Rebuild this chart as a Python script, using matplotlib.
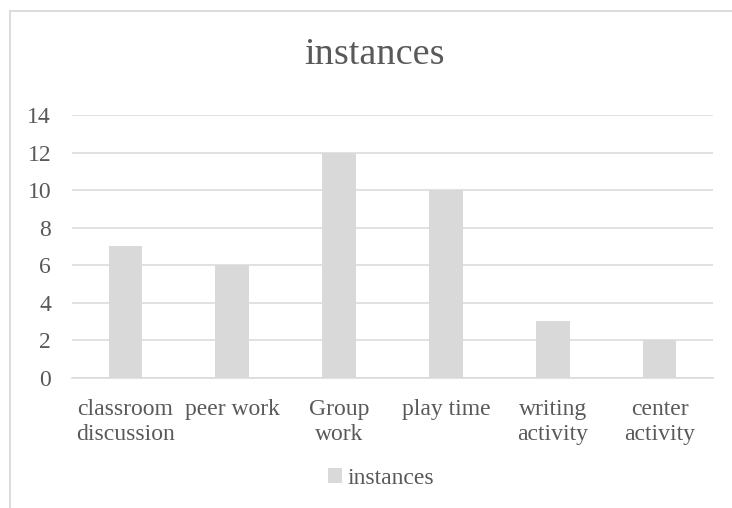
import matplotlib
matplotlib.use("Agg")
import matplotlib.pyplot as plt
from matplotlib.patches import Patch
from matplotlib.lines import Line2D

categories = ["classroom\ndiscussion", "peer work", "Group\nwork", "play time",
              "writing\nactivity", "center\nactivity"]
instances = [7, 6, 12, 10, 3, 2]
y_ticks = [0, 2, 4, 6, 8, 10, 12, 14]

TEXT = "#595959"
GRAY = "#D9D9D9"

plt.rcParams["font.family"] = ["Liberation Serif", "DejaVu Serif"]

W, H = 732, 508
fig = plt.figure(figsize=(W / 100, H / 100), dpi=100)
fig.patch.set_facecolor("white")

# chart-area border (extends past the right and bottom edges)
fig.add_artist(Line2D([10 / W, 1.0], [1 - 10.5 / H, 1 - 10.5 / H],
                      transform=fig.transFigure, color=GRAY, lw=1.3))
fig.add_artist(Line2D([10 / W, 10 / W], [0.0, 1 - 10.5 / H],
                      transform=fig.transFigure, color=GRAY, lw=1.3))

left, right = 72 / W, 713 / W
bottom, top = 1 - 377.7 / H, 1 - 115 / H
ax = fig.add_axes([left, bottom, right - left, top - bottom])

x = list(range(len(categories)))
ax.bar(x, instances, width=0.315, color=GRAY, zorder=3, label="instances")

ax.set_xlim(-0.5, len(categories) - 0.5)
ax.set_ylim(0, 14)
ax.set_yticks(y_ticks)
ax.set_yticklabels([str(v) for v in y_ticks])
ax.set_xticks(x)
ax.set_xticklabels(categories, linespacing=1.25)

ax.grid(axis="y", color=GRAY, lw=1.1, zorder=0)
ax.set_axisbelow(True)
for s in ["top", "right", "left"]:
    ax.spines[s].set_visible(False)
ax.spines["bottom"].set_color(GRAY)
ax.spines["bottom"].set_linewidth(1.1)
ax.spines["bottom"].set_zorder(4)

ax.tick_params(axis="y", length=0, pad=15, labelsize=17, labelcolor=TEXT)
ax.tick_params(axis="x", length=0, pad=15, labelsize=17, labelcolor=TEXT)

fig.text(375 / W, 1 - 55 / H, "instances", ha="center", va="center",
         fontsize=27.5, color=TEXT)

handle = Patch(facecolor=GRAY, edgecolor="none")
fig.legend([handle], ["instances"], loc="center", bbox_to_anchor=(381 / W, 1 - 478 / H),
           frameon=False, fontsize=17, labelcolor=TEXT, handlelength=0.6,
           handleheight=0.6, handletextpad=0.25, borderpad=0)

fig.savefig("out.png", dpi=100, facecolor="white")
